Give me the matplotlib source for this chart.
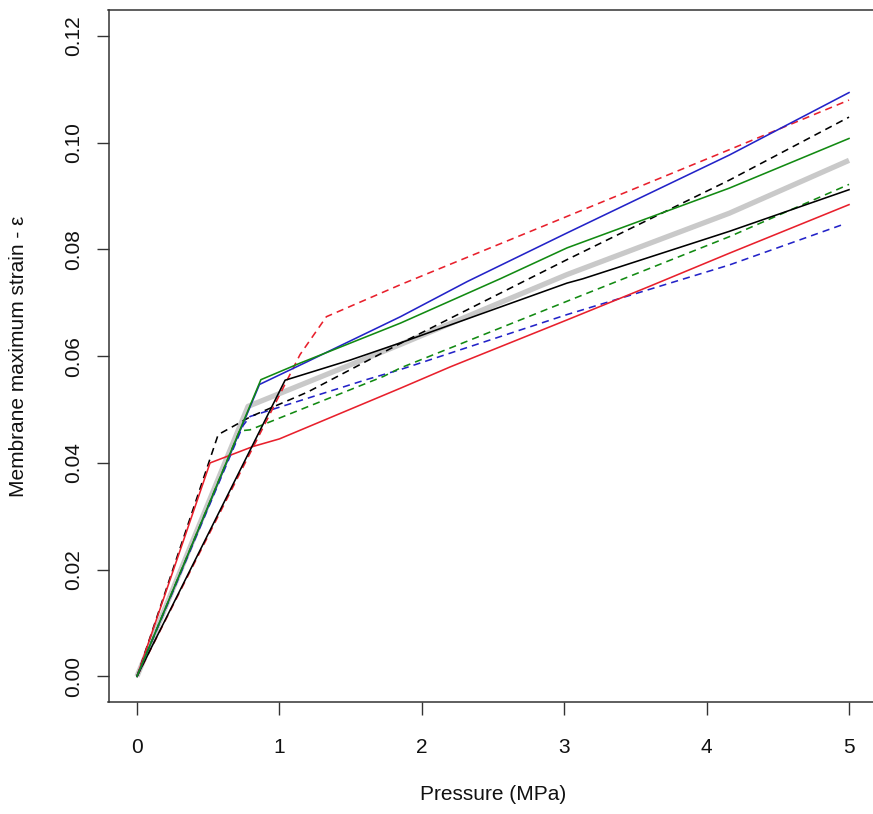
import matplotlib
matplotlib.use("Agg")
import matplotlib.pyplot as plt

plt.rcParams['font.family'] = ['Liberation Sans', 'DejaVu Sans']

# ---- data (Pressure in MPa, membrane maximum strain) ----
blue_solid_x = [0, 0.86, 1.19, 1.85, 2.32, 3.02, 4.16, 5.0]
blue_solid_y = [0, 0.0547, 0.0589, 0.0674, 0.0740, 0.0831, 0.0977, 0.1094]

green_solid_x = [0, 0.87, 1.145, 1.85, 2.55, 3.02, 4.16, 5.0]
green_solid_y = [0, 0.0556, 0.0587, 0.0662, 0.0745, 0.0803, 0.0915, 0.1008]

black_solid_x = [0, 1.04, 1.50, 1.85, 3.02, 3.13, 4.16, 5.0]
black_solid_y = [0, 0.0555, 0.0593, 0.0625, 0.0737, 0.0745, 0.0834, 0.0912]

red_solid_x = [0, 0.513, 0.817, 1.0, 1.85, 2.20, 3.02, 3.60, 4.16, 5.0]
red_solid_y = [0, 0.0400, 0.0431, 0.0445, 0.0540, 0.0580, 0.0668, 0.0731, 0.0793, 0.0884]

red_dashed_x = [0, 1.145, 1.33, 1.85, 3.02, 4.16, 5.0]
red_dashed_y = [0, 0.0603, 0.0674, 0.0734, 0.0862, 0.0987, 0.1080]

black_dashed_x = [0, 0.57, 0.80, 1.20, 1.50, 1.85, 3.02, 4.16, 5.0]
black_dashed_y = [0, 0.0453, 0.0487, 0.0533, 0.0575, 0.0624, 0.0781, 0.0930, 0.1048]

green_dashed_x = [0, 0.72, 0.794, 1.73, 1.85, 3.02, 4.16, 5.0]
green_dashed_y = [0, 0.0460, 0.0462, 0.0562, 0.0578, 0.0703, 0.0824, 0.0922]

blue_dashed_x = [0, 0.745, 0.794, 1.61, 1.85, 3.02, 4.16, 4.97]
blue_dashed_y = [0, 0.0470, 0.0487, 0.0556, 0.0575, 0.0678, 0.0771, 0.0848]

mean_x = [0, 0.78, 1.85, 3.02, 4.16, 5.0]
mean_y = [0, 0.0506, 0.0622, 0.0753, 0.0868, 0.0967]

x_ticks = [0, 1, 2, 3, 4, 5]
y_ticks = [0.00, 0.02, 0.04, 0.06, 0.08, 0.10, 0.12]
y_tick_labels = ["0.00", "0.02", "0.04", "0.06", "0.08", "0.10", "0.12"]

# ---- figure ----
W, H = 873, 814
fig = plt.figure(figsize=(W / 100, H / 100), dpi=100)
ax_l, ax_r, ax_t, ax_b = 108.5, 877.5, 10.4, 702.0
ax = fig.add_axes([ax_l / W, (H - ax_b) / H, (ax_r - ax_l) / W, (ax_b - ax_t) / H])

BLUE = '#2323c8'
RED = '#e8202c'
GREEN = '#128a12'
GRAY = '#c9c9c9'
lw = 1.15
dash = (0, (4.5, 3.2))

ax.plot(mean_x, mean_y, color=GRAY, lw=3.8, solid_capstyle='butt', zorder=1)
ax.plot(blue_dashed_x, blue_dashed_y, color=BLUE, lw=lw, linestyle=dash, zorder=2)
ax.plot(green_dashed_x, green_dashed_y, color=GREEN, lw=lw, linestyle=dash, zorder=2)
ax.plot(black_dashed_x, black_dashed_y, color='black', lw=lw, linestyle=dash, zorder=2)
ax.plot(red_dashed_x, red_dashed_y, color=RED, lw=lw, linestyle=dash, zorder=2)
ax.plot(red_solid_x, red_solid_y, color=RED, lw=lw, zorder=3)
ax.plot(black_solid_x, black_solid_y, color='black', lw=lw, zorder=3)
ax.plot(blue_solid_x, blue_solid_y, color=BLUE, lw=lw, zorder=3)
ax.plot(green_solid_x, green_solid_y, color=GREEN, lw=lw, zorder=3)

ax.set_xlim(-0.2, 5.2)
ax.set_ylim(-0.0048, 0.1248)

ax.set_xticks(x_ticks)
ax.set_xticklabels([str(t) for t in x_ticks])
ax.set_yticks(y_ticks)
ax.set_yticklabels(y_tick_labels, rotation=90, va='center')

for s in ax.spines.values():
    s.set_color('#333333')
    s.set_linewidth(1.1)

ax.tick_params(axis='both', direction='out', length=9, width=1.0,
               color='#333333', labelsize=15, labelcolor='#111111')
ax.tick_params(axis='x', pad=17)
ax.tick_params(axis='y', pad=9)

ax.set_xlabel("Pressure (MPa)", fontsize=15, color='#111111')
ax.set_ylabel("Membrane maximum strain - ε", fontsize=15, color='#111111')
ax.xaxis.set_label_coords(0.5, -(795 - ax_b) / (ax_b - ax_t))
ax.xaxis.label.set_va('center')
ax.yaxis.set_label_coords(-(ax_l - 19) / (ax_r - ax_l), 0.5)
ax.yaxis.label.set_va('center')

fig.savefig("out.png", dpi=100)
